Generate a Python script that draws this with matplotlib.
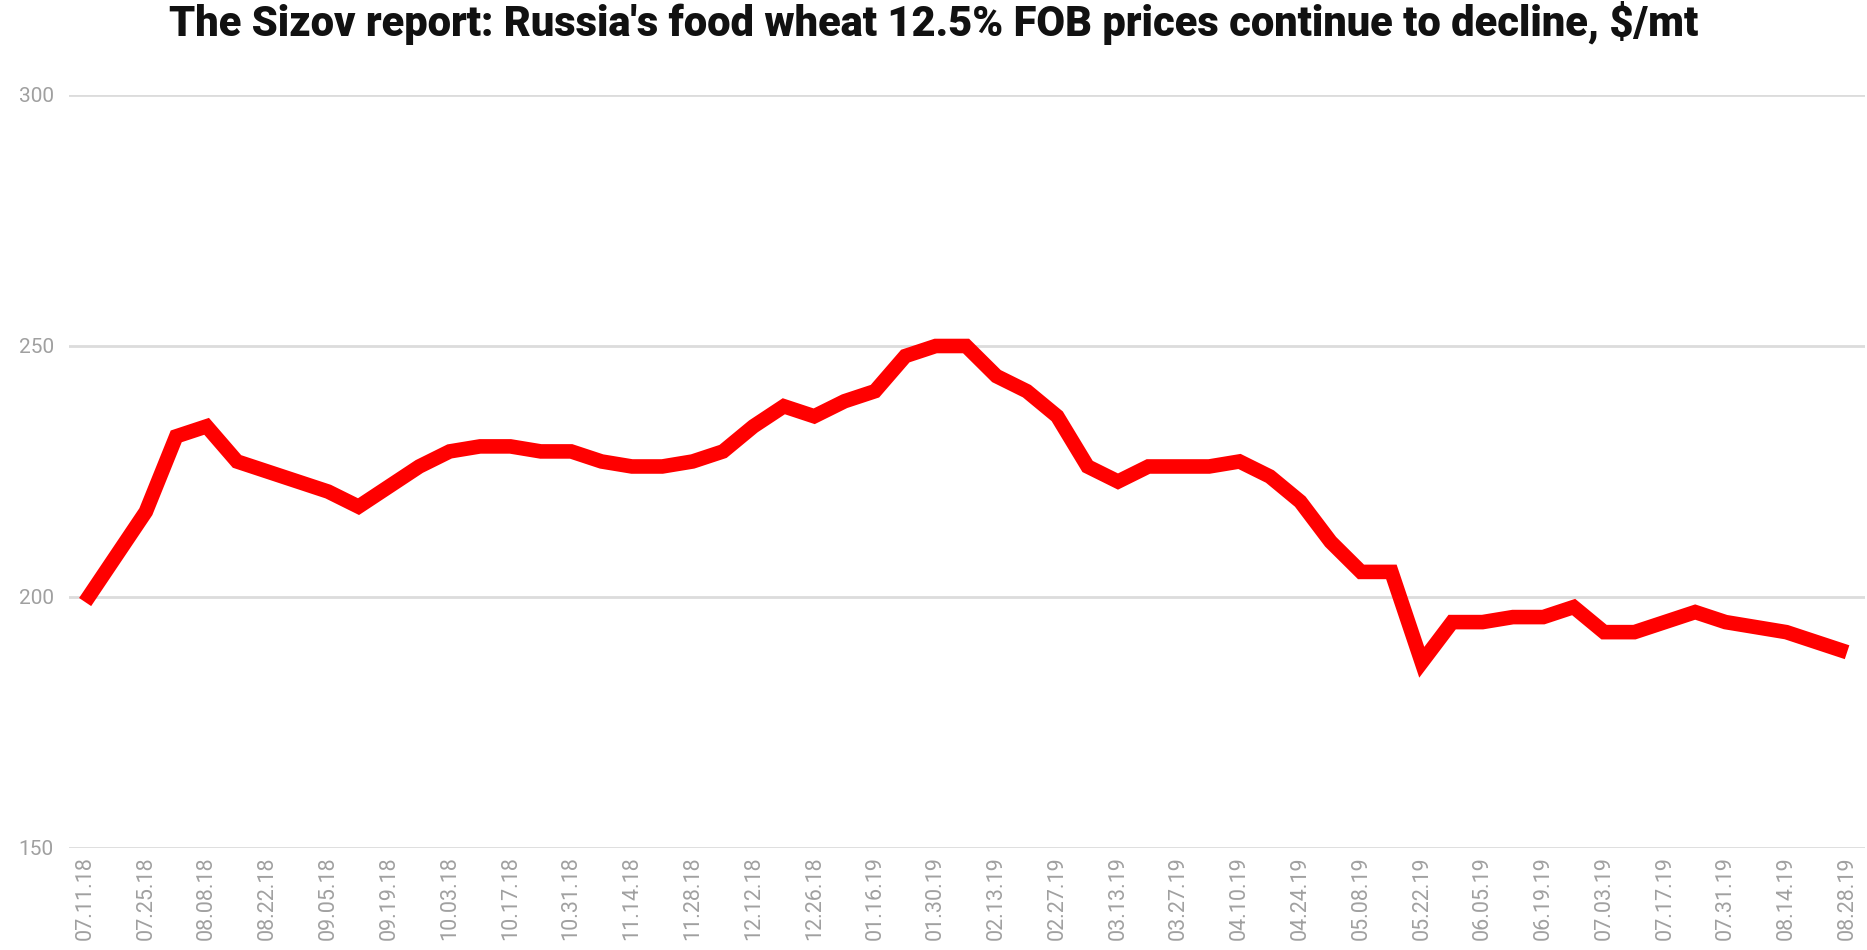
import matplotlib
matplotlib.use("Agg")
import matplotlib.pyplot as plt

# ---- data ----
dates = [
    "07.11.18", "07.18.18", "07.25.18", "08.01.18", "08.08.18", "08.15.18",
    "08.22.18", "08.29.18", "09.05.18", "09.12.18", "09.19.18", "09.26.18",
    "10.03.18", "10.10.18", "10.17.18", "10.24.18", "10.31.18", "11.07.18",
    "11.14.18", "11.21.18", "11.28.18", "12.05.18", "12.12.18", "12.19.18",
    "12.26.18", "01.09.19", "01.16.19", "01.23.19", "01.30.19", "02.06.19",
    "02.13.19", "02.20.19", "02.27.19", "03.06.19", "03.13.19", "03.20.19",
    "03.27.19", "04.03.19", "04.10.19", "04.17.19", "04.24.19", "05.01.19",
    "05.08.19", "05.15.19", "05.22.19", "05.29.19", "06.05.19", "06.12.19",
    "06.19.19", "06.26.19", "07.03.19", "07.10.19", "07.17.19", "07.24.19",
    "07.31.19", "08.07.19", "08.14.19", "08.21.19", "08.28.19",
]
prices = [
    199, 208, 217, 232, 234, 227, 225, 223, 221, 218, 222, 226,
    229, 230, 230, 229, 229, 227, 226, 226, 227, 229, 234, 238,
    236, 239, 241, 248, 250, 250, 244, 241, 236, 226, 223, 226,
    226, 226, 227, 224, 219, 211, 205, 205, 187, 195, 195, 196,
    196, 198, 193, 193, 195, 197, 195, 194, 193, 191, 189,
]
y_ticks = [150, 200, 250, 300]
title = "The Sizov report: Russia's food wheat 12.5% FOB prices continue to decline, $/mt"

# ---- figure ----
W, H, DPI = 1867, 950, 100
fig = plt.figure(figsize=(W / DPI, H / DPI), dpi=DPI, facecolor="white")
ax = fig.add_axes([69 / W, 1 - 848 / H, (1865 - 69) / W, (848 - 95) / H])

x = list(range(len(prices)))
ax.plot(x, prices, color="#ff0000", linewidth=10.5, solid_joinstyle="miter",
        solid_capstyle="butt", zorder=3, clip_on=False)

ax.set_ylim(150, 300)
ax.set_xlim(-0.53, len(prices) - 1 + 0.59)
ax.set_yticks(y_ticks)
ax.set_yticklabels([str(v) for v in y_ticks])
ax.set_xticks(x[::2])
ax.set_xticklabels(dates[::2], rotation=90, va="top", ha="center")

ax.grid(axis="y", color="#dcdcdc", linewidth=2.0, zorder=0)
ax.set_axisbelow(True)
for s in ax.spines.values():
    s.set_visible(False)
ax.tick_params(axis="both", length=0)
ax.tick_params(axis="y", pad=11, labelsize=15, labelcolor="#a0a0a0")
ax.tick_params(axis="x", pad=6, labelsize=15.5, labelcolor="#a0a0a0")
for lab in ax.get_yticklabels() + ax.get_xticklabels():
    lab.set_family(["Roboto", "DejaVu Sans"])

fig.text(0.5, 1 - 23 / H, title, ha="center", va="center",
         fontsize=30, fontweight="heavy", color="#111111",
         family=["Roboto", "DejaVu Sans"])

fig.savefig("out.png", dpi=DPI, facecolor="white")
